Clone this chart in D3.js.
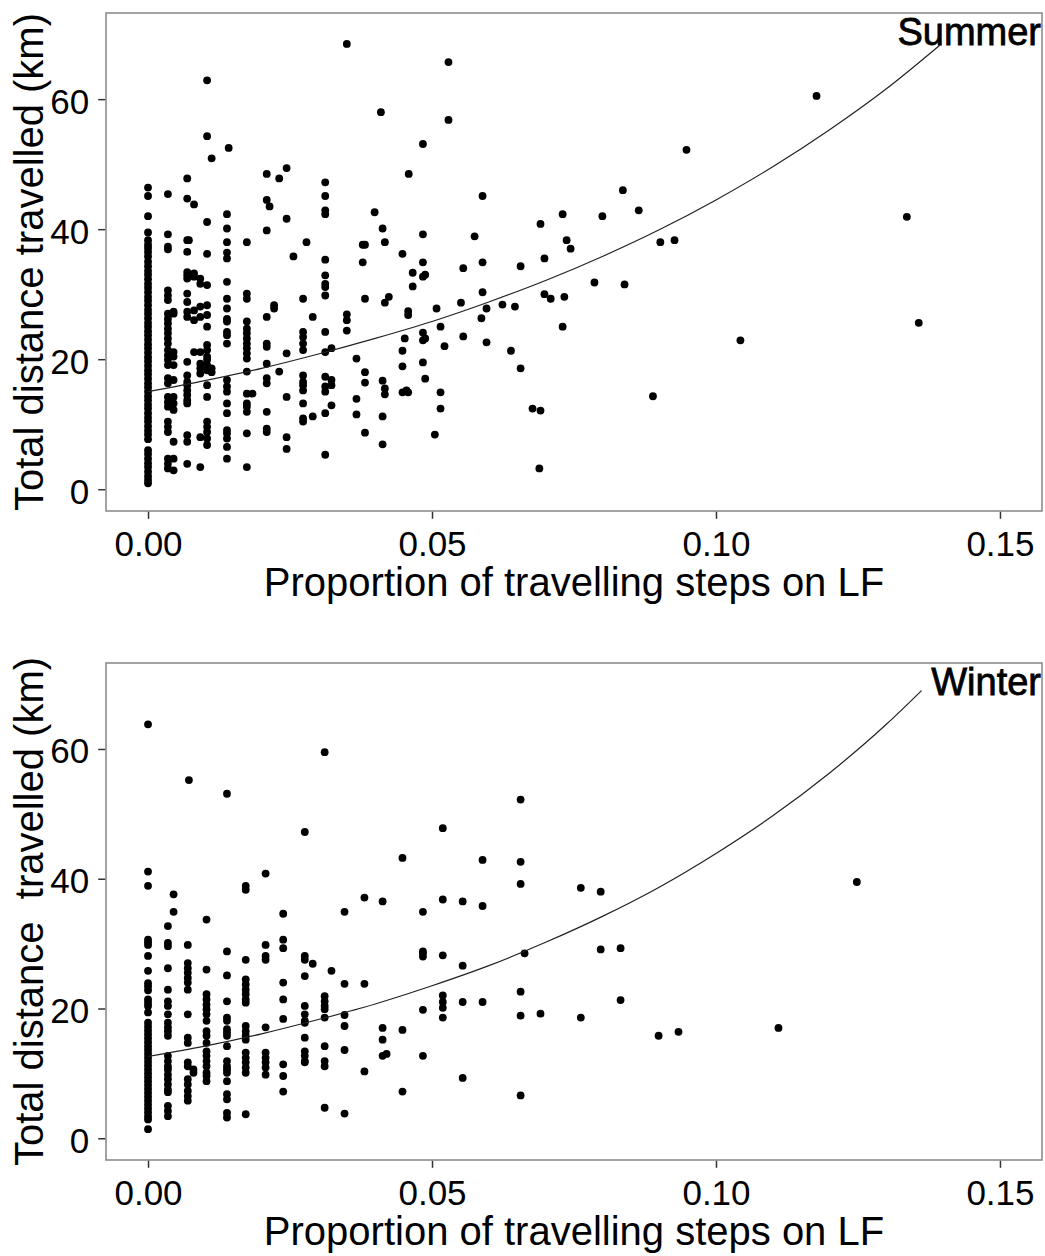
<!DOCTYPE html>
<html>
<head>
<meta charset="utf-8">
<script src="https://cdn.jsdelivr.net/npm/d3@7"></script>
<style>
	body { margin: 0; background: #fff; }
	svg { display: block; font-family: "Liberation Sans", Arial, sans-serif; }
</style>
</head>
<body>
<svg id="chart" width="1045" height="1256"></svg>
<script>
// Data, grouped by x column: [x, [y values]]
const summerCols = [
	[0, [46.4, 45.1, 42.0, 39.5, 38.3, 37.6, 37.1, 36.5, 35.8, 35.0, 34.3, 33.6, 33.0, 32.3, 31.6, 31.0, 30.3, 29.6, 29.0, 28.3, 27.6, 27.0, 26.3, 25.6, 25.0, 24.3, 23.7, 23.0, 22.3, 21.7, 21.0, 20.3, 19.7, 19.0, 18.3, 17.7, 17.0, 16.3, 15.7, 15.0, 14.3, 13.7, 13.0, 12.4, 11.7, 11.0, 10.4, 9.7, 9.0, 8.4, 7.7, 6.0, 5.4, 4.7, 4.0, 3.4, 2.7, 2.0, 1.4, 0.9]],
	[0.0035, [45.4, 39.2, 37.3, 36.9, 30.6, 29.8, 29.1, 27.0, 26.2, 25.5, 24.7, 24.0, 23.2, 22.4, 21.4, 20.6, 19.9, 19.1, 17.1, 16.3, 14.2, 13.4, 12.7, 10.4, 9.6, 8.8, 4.7, 3.9, 3.2]],
	[0.0045, [27.3, 27.0, 21.1, 20.4, 19.1, 16.8, 14.2, 13.2, 12.2, 7.3, 4.7, 2.9]],
	[0.0069, [47.8, 44.7, 38.3, 36.5, 33.4, 32.9, 32.4, 30.1, 28.8, 27.3, 26.5, 19.6, 17.5, 16.5, 16.0, 15.2, 14.5, 13.7, 13.2, 8.3, 7.3, 3.9]],
	[0.0072, [38.3]],
	[0.0081, [43.8, 33.2, 32.7, 27.5, 26.0, 21.1]],
	[0.0092, [32.4, 31.6, 28.1, 26.5, 21.1, 19.3, 18.6, 17.8, 8.0, 3.4]],
	[0.0104, [62.9, 54.3, 41.1, 36.2, 31.4, 28.3, 26.8, 25.0, 22.2, 21.4, 20.4, 19.9, 19.1, 18.3, 16.0, 14.2, 10.4, 9.6, 8.8, 7.8, 6.8]],
	[0.0112, [50.9, 18.6, 18.0]],
	[0.0139, [42.3, 40.1, 38.0, 36.4, 35.5, 31.9, 29.3, 27.8, 26.2, 25.8, 24.2, 23.7, 22.4, 16.8, 15.8, 15.0, 13.2, 11.7, 9.1, 8.6, 7.8, 6.5, 4.7]],
	[0.0142, [52.5]],
	[0.0174, [38.0, 30.1, 29.3, 25.8, 24.7, 24.0, 23.2, 22.4, 21.7, 20.9, 20.1, 18.1, 14.7, 13.2, 12.7, 11.9, 8.6, 3.4]],
	[0.0184, [14.7]],
	[0.0209, [48.5, 44.5, 39.8, 26.5, 22.4, 21.9, 19.3, 17.1, 16.3, 11.9, 9.3, 8.8]],
	[0.0214, [43.5]],
	[0.0222, [28.3, 27.8]],
	[0.0231, [47.8, 18.1]],
	[0.0244, [49.4, 41.6, 20.9, 14.2, 8.0, 6.2]],
	[0.0256, [35.8]],
	[0.0273, [29.3, 24.2, 23.4, 22.4, 21.4, 17.5, 16.5, 16.0, 15.2, 13.2, 10.9, 10.4]],
	[0.0279, [38.0]],
	[0.029, [26.5, 11.2]],
	[0.0312, [47.2, 45.1, 42.9, 42.3, 35.3, 32.9, 31.6, 31.1, 29.8, 24.2, 21.1, 17.3, 15.8, 15.0, 11.7, 5.3]],
	[0.0323, [21.7, 16.8, 16.0, 12.9]],
	[0.035, [68.5, 26.9, 26.0, 24.4]],
	[0.0367, [20.1, 13.9, 11.5]],
	[0.0378, [37.6, 34.9]],
	[0.0382, [37.6, 29.3, 18.0, 16.4, 8.7]],
	[0.0399, [42.6]],
	[0.041, [58.0]],
	[0.0413, [40.1, 16.7, 11.2, 6.9]],
	[0.0417, [38.0, 28.7, 15.5, 14.6]],
	[0.0424, [29.6]],
	[0.0448, [36.2, 21.3, 18.9, 14.9]],
	[0.0452, [23.2]],
	[0.0455, [15.2]],
	[0.0458, [27.4, 26.8, 14.9]],
	[0.0459, [48.5]],
	[0.0466, [33.3, 31.2]],
	[0.0484, [53.1, 39.2, 34.9, 32.7, 24.1, 22.9, 19.5]],
	[0.0488, [33.0, 23.2, 17.0]],
	[0.0505, [8.4]],
	[0.0508, [27.8]],
	[0.0515, [25.0, 14.9, 12.4]],
	[0.0522, [22.0]],
	[0.0529, [65.7, 56.8]],
	[0.0551, [28.7]],
	[0.0555, [34.0, 23.5]],
	[0.0575, [38.9]],
	[0.0587, [26.3]],
	[0.0589, [45.1, 34.9, 30.3]],
	[0.0596, [27.8, 22.6]],
	[0.0624, [28.4]],
	[0.0639, [21.3]],
	[0.0646, [28.1]],
	[0.0656, [34.3, 18.6]],
	[0.0677, [12.4]],
	[0.0689, [3.2]],
	[0.0691, [40.8, 12.1]],
	[0.0698, [35.5, 30.0]],
	[0.0709, [29.3]],
	[0.073, [42.3, 25.0]],
	[0.0733, [29.6]],
	[0.0737, [38.3]],
	[0.0744, [37.0]],
	[0.0786, [31.8]],
	[0.08, [42.0]],
	[0.0836, [46.0]],
	[0.0839, [31.5]],
	[0.0864, [42.9]],
	[0.0889, [14.3]],
	[0.0902, [38.0]],
	[0.0927, [38.3]],
	[0.0948, [52.2]],
	[0.1043, [22.9]],
	[0.1177, [60.5]],
	[0.1336, [41.9]],
	[0.1357, [25.6]]
];

const winterCols = [
	[0, [63.8, 41.1, 38.9, 30.6, 30.2, 29.8, 28.1, 25.8, 23.9, 23.4, 22.8, 21.4, 20.9, 20.4, 19.4, 17.8, 17.2, 16.6, 16.0, 15.4, 14.8, 14.2, 13.6, 13.0, 12.4, 11.8, 11.2, 10.6, 10.0, 9.4, 8.8, 8.2, 7.6, 7.0, 6.4, 5.8, 5.2, 4.6, 4.0, 3.4, 2.9, 1.4]],
	[0.0035, [32.7, 30.1, 29.6, 26.2, 22.9, 21.1, 20.4, 19.1, 17.8, 17.1, 16.5, 15.8, 12.7, 11.9, 11.1, 10.6, 9.8, 9.1, 8.3, 7.5, 7.1, 5.0, 4.2, 3.4]],
	[0.0045, [37.6, 34.9]],
	[0.007, [29.8, 27.0, 26.2, 25.5, 24.7, 24.0, 22.9, 19.1, 15.5, 14.7, 11.7, 11.1, 9.1, 8.3, 7.3, 6.5, 5.8]],
	[0.0072, [55.2]],
	[0.008, [10.6, 10.1]],
	[0.0103, [33.7, 26.0, 22.2, 21.4, 20.6, 19.9, 19.1, 18.1, 16.5, 15.8, 14.7, 13.4, 12.7, 11.9, 11.1, 10.1, 9.6, 8.8]],
	[0.0139, [53.1, 28.8, 25.1, 21.1, 18.6, 18.1, 16.8, 16.3, 15.8, 14.2, 11.9, 11.1, 10.6, 10.1, 8.8, 6.8, 6.0, 3.9, 3.2]],
	[0.0172, [38.9, 38.3, 27.5, 24.5, 23.7, 22.9, 22.2, 21.4, 20.9, 17.3, 16.5, 15.8, 15.2, 13.2, 12.4, 11.7, 10.9, 10.1, 3.7]],
	[0.0207, [40.8, 29.8, 28.1, 27.5, 17.1, 13.2, 12.4, 11.7, 10.9, 9.8]],
	[0.0238, [34.6, 30.6, 29.3, 24.0, 21.4, 18.4, 11.4, 9.6, 7.2]],
	[0.0276, [47.2, 28.1, 27.5, 25.0, 20.4, 19.1, 18.1, 17.8, 15.5, 13.4, 12.7, 11.9, 11.7]],
	[0.029, [26.9]],
	[0.0311, [59.5, 21.9, 21.1, 20.4, 19.9, 18.6, 14.2, 11.9, 11.1, 4.7]],
	[0.0323, [25.8]],
	[0.0346, [34.9, 23.8, 19.0, 17.3, 13.6, 3.8]],
	[0.0381, [37.1, 23.8, 10.3]],
	[0.0413, [36.5, 17.0, 15.2, 12.7]],
	[0.042, [13.0]],
	[0.0448, [43.2, 16.7, 7.2]],
	[0.0484, [34.9, 28.8, 28.5, 28.0, 19.8, 12.7]],
	[0.0519, [47.8, 36.8, 28.2, 22.0, 21.0, 20.1, 18.6]],
	[0.0554, [36.5, 26.6, 21.0, 9.3]],
	[0.0589, [42.9, 35.8, 21.0]],
	[0.0656, [52.2, 42.6, 39.2, 22.6, 18.9, 6.6]],
	[0.0663, [28.5]],
	[0.0691, [19.2]],
	[0.0762, [38.6, 18.6]],
	[0.0797, [38.0, 29.1]],
	[0.0832, [29.3, 21.3]],
	[0.0899, [15.8]],
	[0.0934, [16.4]],
	[0.111, [17.0]],
	[0.1248, [39.5]]
];

// fitted curves, read at steps along x
const curveX = [0, 0.01, 0.02, 0.03, 0.04, 0.05, 0.06, 0.07, 0.08, 0.09, 0.10, 0.11, 0.12, 0.13];
const summerCurveY = [15.0, 16.7, 18.6, 20.8, 23.2, 25.8, 28.8, 32.1, 35.8, 39.9, 44.5, 49.6, 55.3, 61.6];
const summerCurveEnd = [0.1394, 68.3];
const winterCurveY = [12.6, 14.2, 16.1, 18.3, 20.7, 23.5, 26.6, 30.2, 34.2, 38.7, 43.9, 49.7, 56.3, 63.8];
const winterCurveEnd = [0.1362, 69.0];

const xTicks = [0, 0.05, 0.10, 0.15];
const yTicks = [0, 20, 40, 60];

const PLOT_LEFT = 106, PLOT_RIGHT = 1042;

function whenDocumentLoaded(action) {
	if (document.readyState === "loading") {
		document.addEventListener("DOMContentLoaded", action);
	} else {
		action();
	}
}

function flatten(cols) {
	const pts = [];
	cols.forEach(c => c[1].forEach(y => pts.push({x: c[0], y: y})));
	return pts;
}

function drawPanel(svg, opts) {
	const x = d3.scaleLinear().domain([-0.0074, 0.1574]).range([PLOT_LEFT, PLOT_RIGHT]);
	const y = d3.scaleLinear().domain([-3.35, 73.25]).range([opts.bottom, opts.top]);

	const g = svg.append("g");

	// points
	g.append("g")
		.selectAll("circle")
		.data(flatten(opts.cols))
		.enter()
		.append("circle")
			.attr("cx", d => x(d.x))
			.attr("cy", d => y(d.y))
			.attr("r", 3.9)
			.attr("fill", "#000");

	// fitted curve
	const curvePts = curveX.map((cx, i) => [cx, opts.curveY[i]]).concat([opts.curveEnd]);
	const line = d3.line()
		.x(d => x(d[0]))
		.y(d => y(d[1]))
		.curve(d3.curveMonotoneX);

	g.append("path")
		.datum(curvePts)
		.attr("d", line)
		.attr("fill", "none")
		.attr("stroke", "#222")
		.attr("stroke-width", 1.2);

	// frame
	g.append("rect")
		.attr("x", PLOT_LEFT)
		.attr("y", opts.top)
		.attr("width", PLOT_RIGHT - PLOT_LEFT)
		.attr("height", opts.bottom - opts.top)
		.attr("fill", "none")
		.attr("stroke", "#8c8c8c")
		.attr("stroke-width", 1.6);

	// axes
	const xAxis = g.append("g")
		.attr("transform", "translate(0," + (opts.bottom + 0.8) + ")")
		.call(d3.axisBottom(x).tickValues(xTicks).tickFormat(d3.format(".2f")).tickSize(7).tickPadding(12));

	const yAxis = g.append("g")
		.attr("transform", "translate(" + (PLOT_LEFT - 0.8) + ",0)")
		.call(d3.axisLeft(y).tickValues(yTicks).tickSize(7).tickPadding(9));

	[xAxis, yAxis].forEach(ax => {
		ax.select(".domain").remove();
		ax.selectAll(".tick line").attr("stroke", "#333").attr("stroke-width", 1.5);
		ax.selectAll(".tick text")
			.attr("fill", "#000")
			.style("font-size", "35px")
			.style("font-family", "'Liberation Sans', Arial, sans-serif");
	});
	yAxis.selectAll(".tick text").attr("dy", "0.4em");

	// axis titles
	g.append("text")
		.attr("x", (PLOT_LEFT + PLOT_RIGHT) / 2)
		.attr("y", opts.bottom + 85)
		.attr("text-anchor", "middle")
		.style("font-size", "40px")
		.text("Proportion of travelling steps on LF");

	g.append("text")
		.attr("transform", "translate(43," + ((opts.top + opts.bottom) / 2) + ") rotate(-90)")
		.attr("text-anchor", "middle")
		.style("font-size", "40px")
		.style("white-space", "pre")
		.text(opts.yTitle);

	// season label
	g.append("text")
		.attr("x", PLOT_RIGHT - 1)
		.attr("y", opts.top + 32)
		.attr("text-anchor", "end")
		.style("font-size", "38px")
		.attr("fill", "#000")
		.attr("stroke", "#000")
		.attr("stroke-width", 0.8)
		.text(opts.label);
}

whenDocumentLoaded(() => {
	const svg = d3.select("#chart");

	drawPanel(svg, {top: 13, bottom: 511, cols: summerCols, curveY: summerCurveY,
		curveEnd: summerCurveEnd, label: "Summer", yTitle: "Total distance travelled (km)"});

	drawPanel(svg, {top: 663, bottom: 1160, cols: winterCols, curveY: winterCurveY,
		curveEnd: winterCurveEnd, label: "Winter", yTitle: "Total distance  travelled (km)"});
});
</script>
</body>
</html>
